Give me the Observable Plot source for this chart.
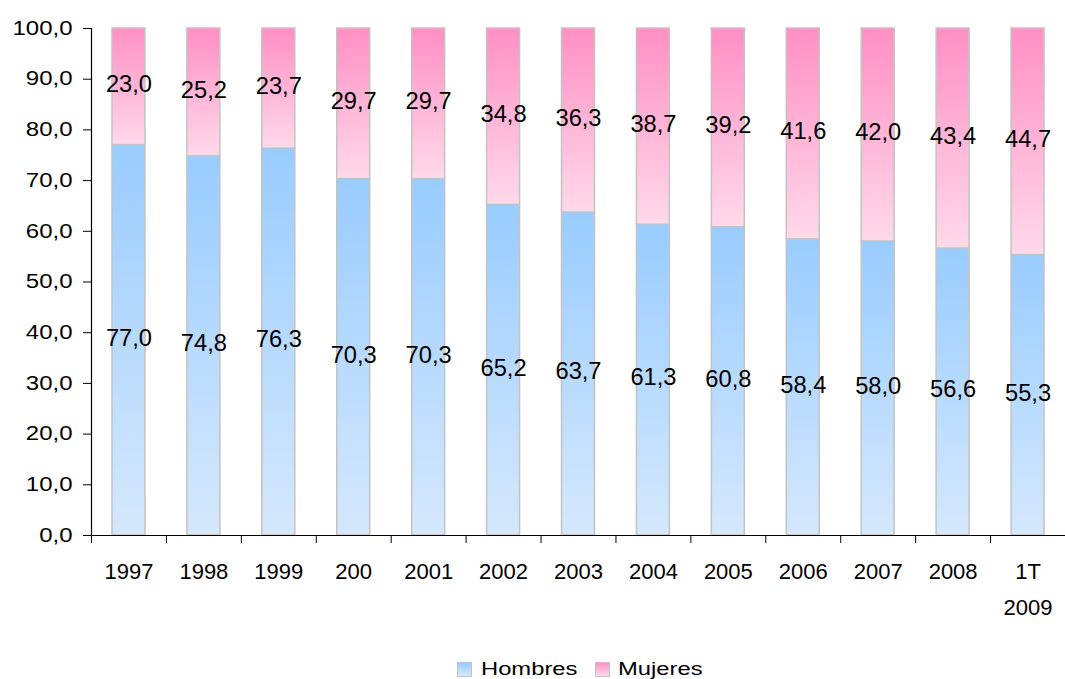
<!DOCTYPE html>
<html>
<head>
<meta charset="utf-8">
<script src="https://cdn.jsdelivr.net/npm/d3@7"></script>
<script src="https://cdn.jsdelivr.net/npm/@observablehq/plot@0.6"></script>
<style>
  html, body { margin: 0; padding: 0; background: #fff; }
  body { width: 1065px; font-family: "Liberation Sans", Arial, sans-serif; }
  #legend { position: relative; height: 34px; font-size: 18px; color: #000; }
  .sw { position: absolute; top: 17px; width: 15px; height: 15px; border: 1.5px solid #c3c3c3; box-sizing: border-box; }
  .lt { position: absolute; top: 13px; line-height: 22px; transform: scaleX(1.32); transform-origin: left center; white-space: nowrap; }
</style>
</head>
<body>
<div id="chart"></div>
<div id="legend">
  <div class="sw" style="left:457px;background:linear-gradient(#99ccff,#d5e8fc)"></div><div class="lt" style="left:481px">Hombres</div>
  <div class="sw" style="left:595px;background:linear-gradient(#ff8fc3,#ffd9ea)"></div><div class="lt" style="left:618px">Mujeres</div>
</div>
<script>
const categories = ["1997","1998","1999","200","2001","2002","2003","2004","2005","2006","2007","2008","1T\n2009"];
const hombres = [77.0,74.8,76.3,70.3,70.3,65.2,63.7,61.3,60.8,58.4,58.0,56.6,55.3];
const mujeres = [23.0,25.2,23.7,29.7,29.7,34.8,36.3,38.7,39.2,41.6,42.0,43.4,44.7];
const yTicks = [0,10,20,30,40,50,60,70,80,90,100];
const seriesNames = ["Hombres","Mujeres"];

const rows = [];
categories.forEach((c, i) => {
  rows.push({cat: c, serie: seriesNames[0], y1: 0, y2: hombres[i], v: hombres[i]});
  rows.push({cat: c, serie: seriesNames[1], y1: hombres[i], y2: hombres[i] + mujeres[i], v: mujeres[i]});
});
const fmt = d => d.toFixed(1).replace(".", ",");

const W = 1065, ML = 91, MR = 0;
const FS_BAR = 23, FS_X = 22, FS_Y = 19.5;
const band = (W - ML - MR) / categories.length;

const chart = Plot.plot({
  width: W,
  height: 645,
  marginTop: 28,
  marginBottom: 110,
  marginLeft: ML,
  marginRight: MR,
  style: {fontFamily: "'Liberation Sans', Arial, sans-serif", fontSize: "20px", color: "#000", background: "#fff", overflow: "visible"},
  x: {domain: categories, paddingInner: 0.56, paddingOuter: 0.28, round: false, label: null, axis: null},
  y: {domain: [0, 100], label: null, axis: null},
  marks: [
    Plot.barY(rows, {x: "cat", y1: "y1", y2: "y2",
      fill: d => d.serie === "Hombres" ? "url(#gBlue)" : "url(#gPink)",
      stroke: "#c3c3c3", strokeWidth: 1.5}),
    Plot.text(rows, {x: "cat", y: d => (d.y1 + d.y2) / 2, text: d => fmt(d.v), fontSize: FS_BAR, dy: -2, fill: "#000"}),
    Plot.axisY(yTicks, {tickSize: 8, tickPadding: 11, tickFormat: fmt, fontSize: FS_Y, stroke: "#000"}),
    Plot.ruleY([0], {stroke: "#000", strokeWidth: 1.2}),
    Plot.ruleX([categories[0]], {y1: 0, y2: 100, dx: -band / 2, stroke: "#000", strokeWidth: 1.2}),
    Plot.ruleX(categories, {y1: 0, y2: -8 / 5.07, dx: -band / 2, stroke: "#000", strokeWidth: 1}),
    Plot.text(categories, {x: d => d, y: 0, text: d => d, dy: 19, lineAnchor: "top", lineHeight: 1.6, fontSize: FS_X, fill: "#000"})
  ]
});

const defs = d3.select(chart).insert("defs", ":first-child");
const addGrad = (id, top, bottom) => {
  const g = defs.append("linearGradient").attr("id", id).attr("x1", 0).attr("y1", 0).attr("x2", 0).attr("y2", 1);
  g.append("stop").attr("offset", "0%").attr("stop-color", top);
  g.append("stop").attr("offset", "100%").attr("stop-color", bottom);
};
addGrad("gBlue", "#99ccff", "#d5e8fc");
addGrad("gPink", "#ff8fc3", "#ffd9ea");

// horizontal glyph widening like the reference (scale about the text anchor x)
const scaleFor = {[FS_BAR]: 1.03, [FS_X]: 1.0, [FS_Y]: 1.23};
d3.select(chart).selectAll("text").each(function() {
  const g = this.closest("[font-size]");
  const fs = g ? parseFloat(g.getAttribute("font-size")) : NaN;
  const sx = scaleFor[fs] || 1;
  if (sx === 1) return;
  const t = this.getAttribute("transform") || "";
  const x = parseFloat(this.getAttribute("x")) || 0;
  this.setAttribute("transform", `${t} translate(${x},0) scale(${sx},1) translate(${-x},0)`.trim());
});
document.getElementById("chart").appendChild(chart);
</script>
</body>
</html>
